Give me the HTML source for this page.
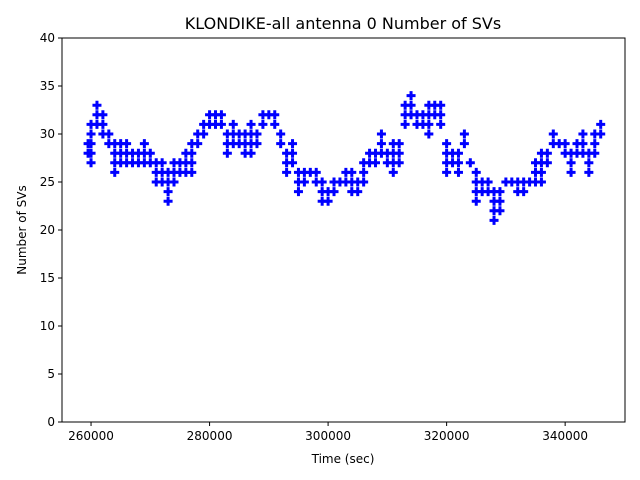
<!DOCTYPE html>
<html><head><meta charset="utf-8"><style>
body{margin:0;background:#fff;}
svg{display:block;font-family:"DejaVu Sans","Liberation Sans",sans-serif;}
</style></head><body>
<svg id="chart" width="640" height="480">
<rect width="640" height="480" fill="#fff"/>
<text x="343" y="29" font-size="16" text-anchor="middle">KLONDIKE-all antenna 0 Number of SVs</text>
<g id="marks"></g>
<rect x="62" y="38" width="563" height="384" fill="none" stroke="#000" stroke-width="1"/>
<g id="xt"></g>
<g id="yt"></g>
<text x="343" y="463" font-size="12" text-anchor="middle">Time (sec)</text>
<text x="26" y="230" font-size="12" text-anchor="middle" transform="rotate(-90 26 230)">Number of SVs</text>
</svg>
<script>
const times=[259500,260000,261000,262000,263000,264000,265000,266000,267000,268000,269000,270000,271000,272000,273000,274000,275000,276000,277000,278000,279000,280000,281000,282000,283000,284000,285000,286000,287000,288000,289000,290000,291000,292000,293000,294000,295000,296000,297000,298000,299000,300000,301000,302000,303000,304000,305000,306000,307000,308000,309000,310000,311000,312000,313000,314000,315000,316000,317000,318000,319000,320000,321000,322000,323000,324000,325000,326000,327000,328000,329000,330000,331000,332000,333000,334000,335000,336000,337000,338000,339000,340000,341000,342000,343000,344000,345000,346000];
const lows=[28,27,31,30,29,26,27,27,27,27,27,27,25,25,23,25,26,26,26,29,30,31,31,31,28,29,29,28,28,29,31,32,31,29,26,27,24,25,26,25,23,23,24,25,25,24,24,25,27,27,28,27,26,27,31,32,31,31,30,32,31,26,27,26,29,27,23,24,24,21,22,25,25,24,24,25,25,25,27,29,29,28,26,28,28,26,28,30];
const highs=[29,31,33,32,30,29,29,29,28,28,29,28,27,27,26,27,27,28,29,30,31,32,32,32,30,31,30,30,31,30,32,32,32,30,28,29,26,26,26,26,25,24,25,25,26,26,25,27,28,28,30,28,29,29,33,34,32,32,33,33,33,29,28,28,30,27,26,25,25,24,24,25,25,25,25,25,27,28,28,30,29,29,28,29,30,28,30,31];
const xTicks=[260000,280000,300000,320000,340000];
const yTicks=[0,5,10,15,20,25,30,35,40];
const X0=255100,X1=350100,L=62,R=625,T=38,B=422;
const xs=v=>L+(v-X0)/(X1-X0)*(R-L);
const ys=v=>B-v/40*(B-T);
const NS='http://www.w3.org/2000/svg';
const marks=document.getElementById('marks');
for(let i=0;i<times.length;i++){
  for(let v=lows[i];v<=highs[i];v++){
    const x=xs(times[i]),y=ys(v);
    const p=document.createElementNS(NS,'path');
    p.setAttribute('d',`M${x-4.5},${y}H${x+4.5}M${x},${y-4.5}V${y+4.5}`);
    p.setAttribute('stroke','#0000ff');p.setAttribute('stroke-width','3');
    
    
    marks.appendChild(p);
  }
}
const xt=document.getElementById('xt');
xTicks.forEach(v=>{
  const x=xs(v);
  const l=document.createElementNS(NS,'line');
  l.setAttribute('x1',x);l.setAttribute('x2',x);l.setAttribute('y1',B);l.setAttribute('y2',B+4);l.setAttribute('stroke','#000');
  
  
  xt.appendChild(l);
  const t=document.createElementNS(NS,'text');
  t.setAttribute('x',x);t.setAttribute('y',B+18);t.setAttribute('font-size','12');t.setAttribute('text-anchor','middle');
  t.textContent=v;
  
  
  xt.appendChild(t);
});
const yt=document.getElementById('yt');
yTicks.forEach(v=>{
  const y=ys(v);
  const l=document.createElementNS(NS,'line');
  l.setAttribute('x1',L-4);l.setAttribute('x2',L);l.setAttribute('y1',y);l.setAttribute('y2',y);l.setAttribute('stroke','#000');
  
  
  yt.appendChild(l);
  const t=document.createElementNS(NS,'text');
  t.setAttribute('x',L-7);t.setAttribute('y',y+4);t.setAttribute('font-size','12');t.setAttribute('text-anchor','end');
  t.textContent=v;
  
  
  yt.appendChild(t);
});
</script>
</body></html>
